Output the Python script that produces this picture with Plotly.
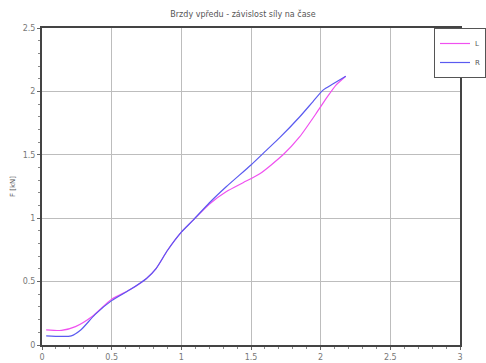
import plotly.graph_objects as go

title = "Brzdy vpředu - závislost síly na čase"
y_title = "F [kN]"

l_x = [0.03, 0.14, 0.24, 0.36, 0.5, 0.63, 0.75, 0.82, 0.9, 1.0, 1.085, 1.2, 1.324, 1.443, 1.563, 1.73, 1.85, 1.97, 2.04, 2.11, 2.18]
l_y = [0.12, 0.115, 0.145, 0.225, 0.36, 0.435, 0.525, 0.605, 0.745, 0.89, 0.985, 1.11, 1.21, 1.28, 1.35, 1.5, 1.643, 1.83, 1.945, 2.05, 2.12]

r_x = [0.03, 0.21, 0.28, 0.38, 0.5, 0.63, 0.75, 0.82, 0.9, 1.0, 1.085, 1.2, 1.324, 1.5, 1.61, 1.706, 1.85, 1.945, 2.017, 2.09, 2.18]
r_y = [0.072, 0.072, 0.12, 0.24, 0.35, 0.435, 0.525, 0.605, 0.745, 0.89, 0.985, 1.12, 1.25, 1.42, 1.535, 1.635, 1.8, 1.92, 2.01, 2.06, 2.12]

x_ticks = [0, 0.5, 1, 1.5, 2, 2.5, 3]
x_labels = ["0", "0.5", "1", "1.5", "2", "2.5", "3"]
y_ticks = [0, 0.5, 1, 1.5, 2, 2.5]
y_labels = ["0", "0.5", "1", "1.5", "2", "2.5"]

fig = go.Figure()
fig.add_trace(go.Scatter(x=l_x, y=l_y, name="L", mode="lines",
                         line=dict(color="#f050f0", width=1.2, shape="spline", smoothing=0.6)))
fig.add_trace(go.Scatter(x=r_x, y=r_y, name="R", mode="lines",
                         line=dict(color="#5a5af0", width=1.2, shape="spline", smoothing=0.6)))

axis_common = dict(
    showgrid=True, gridcolor="#bdbdbd", gridwidth=1,
    showline=True, linecolor="#444444", linewidth=2, mirror=True,
    ticks="outside", ticklen=3, tickcolor="#666666",
    tickfont=dict(family="DejaVu Sans", size=8, color="#777777"),
    zeroline=False,
)

fig.update_xaxes(range=[0, 3], tickvals=x_ticks, ticktext=x_labels,
                 minor=dict(dtick=0.1, ticks="outside", ticklen=2, tickcolor="#888888", showgrid=False),
                 **axis_common)
fig.update_yaxes(range=[0, 2.5], tickvals=y_ticks, ticktext=y_labels,
                 title=dict(text=y_title, font=dict(family="DejaVu Sans", size=7, color="#555555"), standoff=6),
                 minor=dict(dtick=0.1, ticks="outside", ticklen=2, tickcolor="#888888", showgrid=False),
                 **axis_common)

fig.update_layout(
    width=486, height=363,
    margin=dict(l=42, r=26, t=28, b=18, autoexpand=False),
    paper_bgcolor="white", plot_bgcolor="white",
    title=dict(text=title, x=0.5, xanchor="center", y=0.962, yanchor="middle",
               font=dict(family="DejaVu Sans", size=8, color="#555555")),
    legend=dict(x=1.0622, y=1.0, xanchor="right", yanchor="top",
                bordercolor="#555555", borderwidth=1, bgcolor="white",
                font=dict(family="DejaVu Sans", size=7, color="#555555"),
                itemwidth=30, tracegroupgap=0),
    showlegend=True,
)

fig.write_html("out.html")
